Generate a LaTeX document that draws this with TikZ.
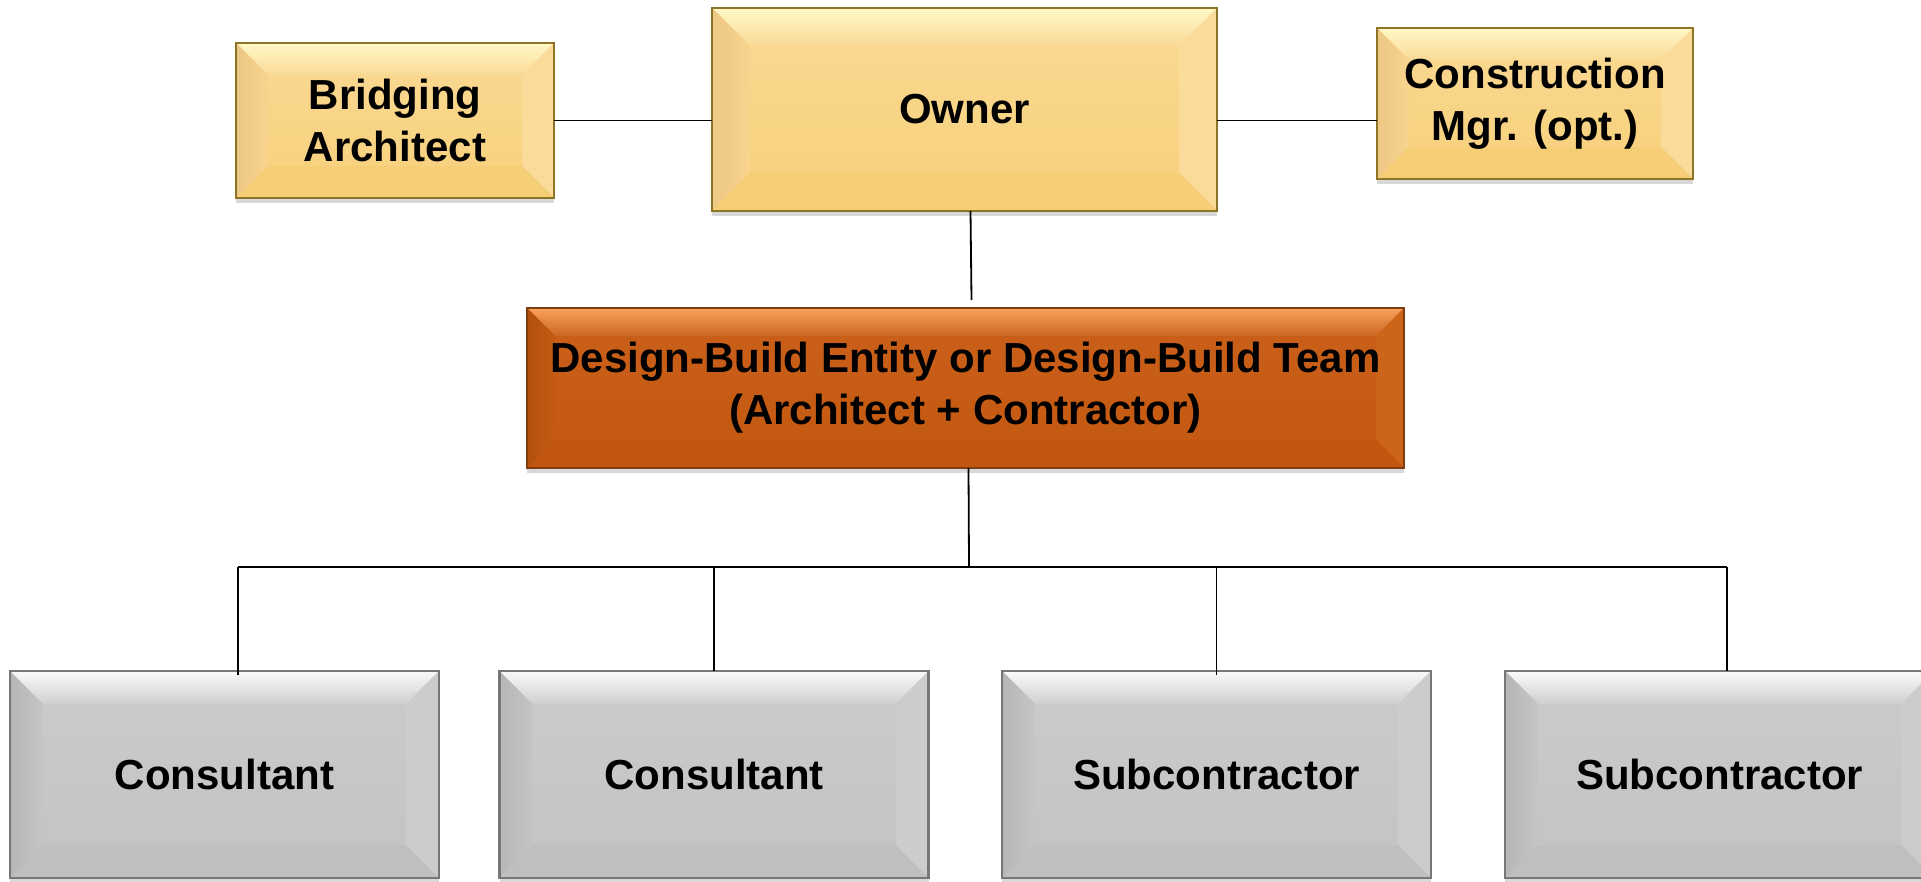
\documentclass[tikz,border=0pt]{standalone}
\usepackage{fontspec}
\setmainfont{Liberation Sans}
\usetikzlibrary{shadows,calc}
\definecolor{goldMainT}{HTML}{FAD994}
\definecolor{goldMainB}{HTML}{F7D07A}
\definecolor{goldBevT}{HTML}{FFF8C8}
\definecolor{goldBevTb}{HTML}{FADA96}
\definecolor{goldBevL}{HTML}{EDC784}
\definecolor{goldBevLb}{HTML}{F8D48E}
\definecolor{goldBevR}{HTML}{FADB9A}
\definecolor{goldBevB}{HTML}{F6CE76}
\definecolor{goldEdge}{HTML}{8E7425}
\definecolor{oraMainT}{HTML}{C9601A}
\definecolor{oraMainB}{HTML}{C45810}
\definecolor{oraBevT}{HTML}{FAA25C}
\definecolor{oraBevTb}{HTML}{CC6520}
\definecolor{oraBevL}{HTML}{B3500E}
\definecolor{oraBevLb}{HTML}{C45A12}
\definecolor{oraBevR}{HTML}{CC641A}
\definecolor{oraBevB}{HTML}{C1560F}
\definecolor{oraEdge}{HTML}{7F3E12}
\definecolor{grayMainT}{HTML}{CBCBCB}
\definecolor{grayMainB}{HTML}{C3C3C3}
\definecolor{grayBevT}{HTML}{FAFAFA}
\definecolor{grayBevTb}{HTML}{CFCFCF}
\definecolor{grayBevL}{HTML}{B6B6B6}
\definecolor{grayBevLb}{HTML}{C5C5C5}
\definecolor{grayBevR}{HTML}{CCCCCC}
\definecolor{grayBevB}{HTML}{BFBFBF}
\definecolor{grayEdge}{HTML}{777777}
\tikzset{
  bw/.store in=\bw, bw=32pt,
  cbt/.store in=\cBevT, cbtb/.store in=\cBevTb,
  cbl/.store in=\cBevL, cblb/.store in=\cBevLb,
  cbr/.store in=\cBevR, cbb/.store in=\cBevB,
  bevelbox/.style={rectangle, inner sep=0pt, outer sep=0pt, align=center,
    line width=2.4pt, text=black,
    font=\fontsize{42}{52}\selectfont\bfseries,
    drop shadow={shadow xshift=0pt, shadow yshift=-5pt, opacity=0.22, fill=black!70},
    path picture={
      \coordinate (ppnw) at (path picture bounding box.north west);
      \coordinate (ppne) at (path picture bounding box.north east);
      \coordinate (ppsw) at (path picture bounding box.south west);
      \coordinate (ppse) at (path picture bounding box.south east);
      \shade[top color=\cBevT, bottom color=\cBevTb]
        (ppnw) -- (ppne) -- ($(ppne)+(-\bw,-\bw)$) -- ($(ppnw)+(\bw,-\bw)$) -- cycle;
      \shade[left color=\cBevL, right color=\cBevLb]
        (ppnw) -- ($(ppnw)+(\bw,-\bw)$) -- ($(ppsw)+(\bw,\bw)$) -- (ppsw) -- cycle;
      \fill[\cBevR]
        (ppne) -- (ppse) -- ($(ppse)+(-\bw,\bw)$) -- ($(ppne)+(-\bw,-\bw)$) -- cycle;
      \fill[\cBevB]
        (ppsw) -- (ppse) -- ($(ppse)+(-\bw,\bw)$) -- ($(ppsw)+(\bw,\bw)$) -- cycle;
    }},
  goldbox/.style={bevelbox, draw=goldEdge, top color=goldMainT, bottom color=goldMainB,
    cbt=goldBevT, cbtb=goldBevTb, cbl=goldBevL, cblb=goldBevLb, cbr=goldBevR, cbb=goldBevB},
  orabox/.style={bevelbox, line width=1.6pt, draw=oraEdge, top color=oraMainT, bottom color=oraMainB,
    cbt=oraBevT, cbtb=oraBevTb, cbl=oraBevL, cblb=oraBevLb, cbr=oraBevR, cbb=oraBevB},
  graybox/.style={bevelbox, draw=grayEdge, top color=grayMainT, bottom color=grayMainB,
    cbt=grayBevT, cbtb=grayBevTb, cbl=grayBevL, cblb=grayBevLb, cbr=grayBevR, cbb=grayBevB,
    minimum width=429pt, minimum height=207pt, bw=33pt},
  link/.style={draw=black, line width=1.8pt}
}
\begin{document}
\begin{tikzpicture}[x=1pt,y=-1pt]
\useasboundingbox (0,0) rectangle (1921,881);
% top row
\node[goldbox, minimum width=318pt, minimum height=155pt, bw=32pt] (bridge) at (395,120.5) {Bridging\\Architect};
\node[goldbox, minimum width=505pt, minimum height=203pt, bw=38pt] (owner) at (964.5,109.5) {Owner};
\node[goldbox, minimum width=316pt, minimum height=151pt, bw=32pt] (cm) at (1535,103.5) {Construction\\Mgr. (opt.)};
% middle
\node[orabox, minimum width=877pt, minimum height=160pt, bw=28pt] (db) at (965.5,388) {Design-Build Entity or Design-Build Team\\(Architect + Contractor)};
% bottom row
\node[graybox] (c1) at (224.5,774.5) {Consultant};
\node[graybox] (c2) at (714,774.5) {Consultant};
\node[graybox] (s1) at (1216.5,774.5) {Subcontractor};
\node[graybox] (s2) at (1719.5,774.5) {Subcontractor};
% connectors
\coordinate (busL) at (238,567);
\coordinate (busR) at (1727,567);
\coordinate (busM) at (969,567);
\path[link] (bridge.east) -- (bridge.east -| owner.west);
\path[link] (owner.east |- bridge.east) -- (cm.west |- bridge.east);
\path[link] ([xshift=6pt]owner.south) -- ([xshift=6pt,yshift=8pt]db.north);
\path[link] ([xshift=3pt]db.south) -- (busM);
\path[link] (busL) -- (busR);
\path[link] (busL) -- ([yshift=-4pt]busL |- c1.north);
\path[link] (busM -| c2.north) -- (c2.north);
\path[link] (busM -| s1.north) -- ([yshift=-4pt]s1.north);
\path[link] (busR) -- (busR |- s2.north);
\end{tikzpicture}
\end{document}
